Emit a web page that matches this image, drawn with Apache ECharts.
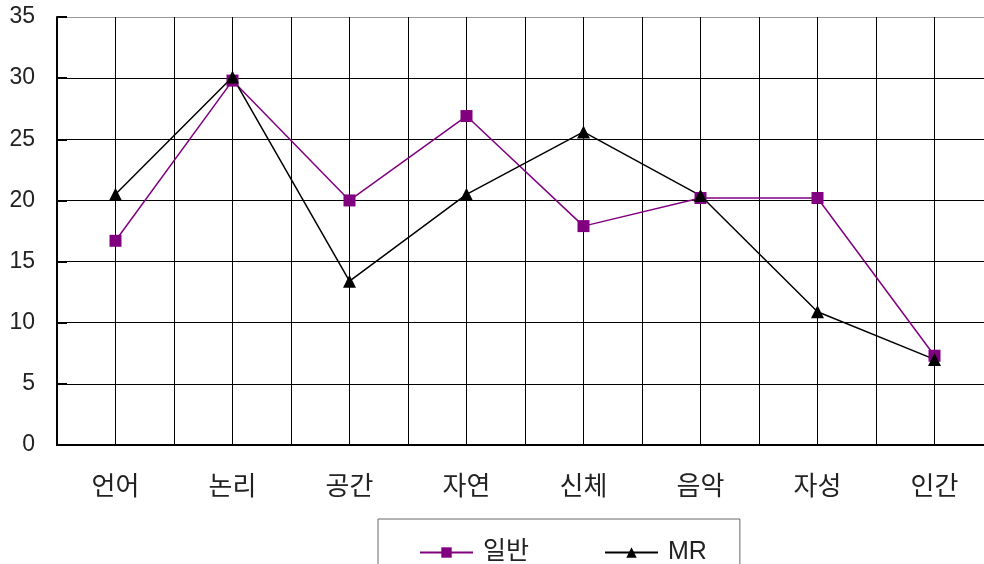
<!DOCTYPE html>
<html>
<head>
<meta charset="utf-8">
<script src="https://cdn.jsdelivr.net/npm/echarts@6/dist/echarts.min.js"></script>
<style>
  html, body { margin: 0; padding: 0; background: #fff; overflow: hidden; width: 984px; height: 564px; }
  /* 오른쪽 끝 격자가 화면 밖으로 잘리도록 조금 넓게 */
  #chart { width: 1000px; height: 564px; }
</style>
</head>
<body>
<div id="chart"></div>
<script>
// 카테고리 / 값
var categories = ['언어', '논리', '공간', '자연', '신체', '음악', '자성', '인간'];
var general = [16.7, 29.8, 20.0, 26.9, 17.9, 20.2, 20.2, 7.3];
var mr = [20.5, 30.1, 13.4, 20.5, 25.6, 20.4, 10.9, 7.0];
var seriesNames = ['일반', 'MR'];
var yTicks = { min: 0, max: 35, step: 5 };

var font = '"Liberation Sans", "Noto Sans CJK KR", sans-serif';
var dom = document.getElementById('chart');
var myChart = echarts.init(dom, null, { renderer: 'canvas' });

// 가로 격자선: 맨 위(35)만 회색
var splitColors = [];
for (var v = yTicks.min; v <= yTicks.max; v += yTicks.step) {
    splitColors.push(v === yTicks.max ? '#999999' : '#000000');
}

var option = {
    backgroundColor: '#ffffff',
    animation: false,
    grid: {
        left: 57,
        top: 17,
        width: 936,
        height: 428,
        containLabel: false
    },
    xAxis: [
        {
            type: 'category',
            data: categories,
            boundaryGap: true,
            axisLine: { show: true, lineStyle: { color: '#000', width: 2 } },
            axisTick: { show: false },
            splitLine: { show: false },
            axisLabel: {
                color: '#222',
                fontSize: 26,
                fontFamily: font,
                margin: 30
            }
        },
        {
            // 세로 격자선용 (카테고리 중앙 + 경계)
            type: 'value',
            min: 0,
            max: categories.length,
            interval: 0.5,
            show: true,
            position: 'bottom',
            axisLine: { show: false },
            axisTick: { show: false },
            axisLabel: { show: false },
            splitLine: { show: true, lineStyle: { color: '#000', width: 1 } }
        }
    ],
    yAxis: {
        type: 'value',
        min: yTicks.min,
        max: yTicks.max,
        interval: yTicks.step,
        axisLine: { show: true, lineStyle: { color: '#000', width: 2 } },
        axisTick: { show: true, inside: true, length: 10, lineStyle: { color: '#000', width: 2 } },
        splitLine: { show: true, lineStyle: { color: splitColors, width: 1 } },
        axisLabel: {
            color: '#222',
            fontSize: 23,
            fontFamily: font,
            margin: 22
        }
    },
    legend: {
        left: 378,
        top: 519,
        data: seriesNames,
        itemWidth: 53,
        itemHeight: 13,
        itemGap: 75,
        padding: [21, 33, 40, 41],
        borderColor: '#666',
        borderWidth: 1,
        backgroundColor: '#fff',
        textStyle: { color: '#222', fontSize: 25, fontFamily: font, padding: [0, 0, 0, 5] }
    },
    series: [
        {
            name: seriesNames[0],
            type: 'line',
            xAxisIndex: 0,
            data: general,
            symbol: 'rect',
            symbolSize: 12,
            color: '#800080',
            lineStyle: { color: '#800080', width: 1.5 },
            itemStyle: { color: '#800080' }
        },
        {
            name: seriesNames[1],
            type: 'line',
            xAxisIndex: 0,
            data: mr,
            symbol: 'triangle',
            symbolSize: 13,
            color: '#000000',
            lineStyle: { color: '#000000', width: 1.5 },
            itemStyle: { color: '#000000' }
        }
    ]
};
myChart.setOption(option);
</script>
</body>
</html>
